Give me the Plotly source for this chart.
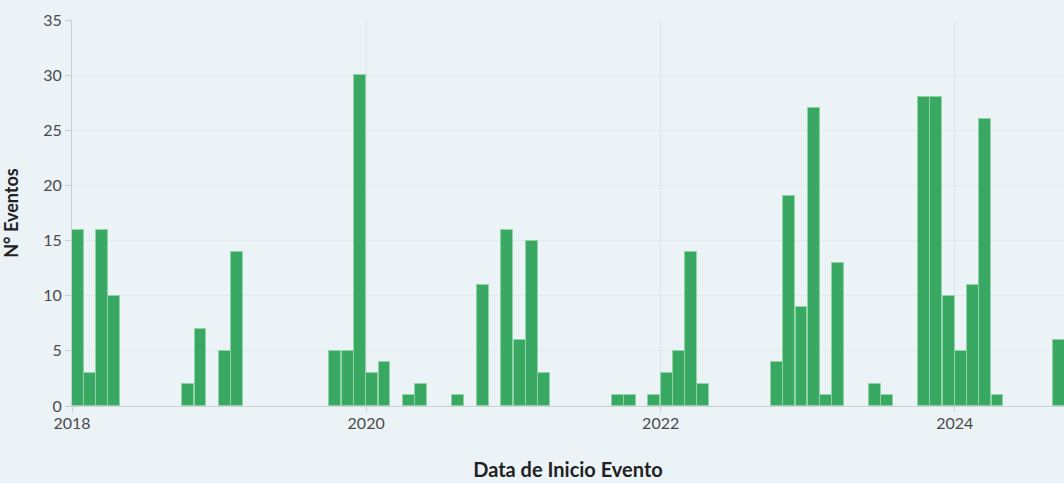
import plotly.graph_objects as go

# Eventos por mes (inicio de evento)
meses = [
    "2018-01", "2018-02", "2018-03", "2018-04",
    "2018-10", "2018-11", "2019-01", "2019-02",
    "2019-10", "2019-11", "2019-12",
    "2020-01", "2020-02", "2020-04", "2020-05", "2020-08", "2020-10", "2020-12",
    "2021-01", "2021-02", "2021-03", "2021-09", "2021-10", "2021-12",
    "2022-01", "2022-02", "2022-03", "2022-04",
    "2022-10", "2022-11", "2022-12",
    "2023-01", "2023-02", "2023-03", "2023-06", "2023-07",
    "2023-10", "2023-11", "2023-12",
    "2024-01", "2024-02", "2024-03", "2024-04", "2024-09",
]
eventos = [
    16, 3, 16, 10,
    2, 7, 5, 14,
    5, 5, 30,
    3, 4, 1, 2, 1, 11, 16,
    6, 15, 3, 1, 1, 1,
    3, 5, 14, 2,
    4, 19, 9,
    27, 1, 13, 2, 1,
    28, 28, 10,
    5, 11, 26, 1, 6,
]

fechas = [m + "-15" for m in meses]

BG = '#ebf3f7'

fig = go.Figure()

fig.add_trace(go.Histogram(
    x=fechas,
    y=eventos,
    histfunc='sum',
    xbins=dict(start="2018-01-01", end="2024-12-01", size="M1"),
    marker=dict(color='#38a862', line=dict(color='#8fd3a6', width=1)),
    hoverinfo='x+y',
))

fig.update_layout(
    width=1064,
    height=483,
    paper_bgcolor=BG,
    plot_bgcolor=BG,
    font=dict(family='Lato', color='#4a4a4a', size=16),
    bargap=0,
    showlegend=False,
    margin=dict(l=72, r=0, t=20, b=77),
    xaxis=dict(
        title=dict(text='Data de Inicio Evento',
                   font=dict(size=20, color='#222222', family='Lato', weight='bold'),
                   standoff=31),
        type='date',
        range=["2018-01-01", "2024-09-28"],
        tick0="2018-01-01",
        dtick="M24",
        tickformat="%Y",
        ticklabelstandoff=-2,
        showgrid=True,
        gridcolor='#dde5ea',
        showline=True,
        linecolor='#c8d0d4',
        ticks='outside',
        ticklen=5,
        tickcolor='#c8d0d4',
        zeroline=False,
    ),
    yaxis=dict(
        title=dict(text='N° Eventos',
                   font=dict(size=18, color='#222222', family='Lato', weight='bold'),
                   standoff=30),
        range=[0, 35],
        dtick=5,
        showgrid=True,
        gridcolor='#e0e8ec',
        showline=True,
        linecolor='#c8d0d4',
        ticks='outside',
        ticklen=6,
        tickcolor='#c8d0d4',
        zeroline=False,
    ),
)

# sin margen de página, fondo igual al gráfico
fig.write_html("out.html", config={'displayModeBar': False}, post_script=(
    "document.body.style.margin='0';"
    "document.body.style.background='" + BG + "';"
))
